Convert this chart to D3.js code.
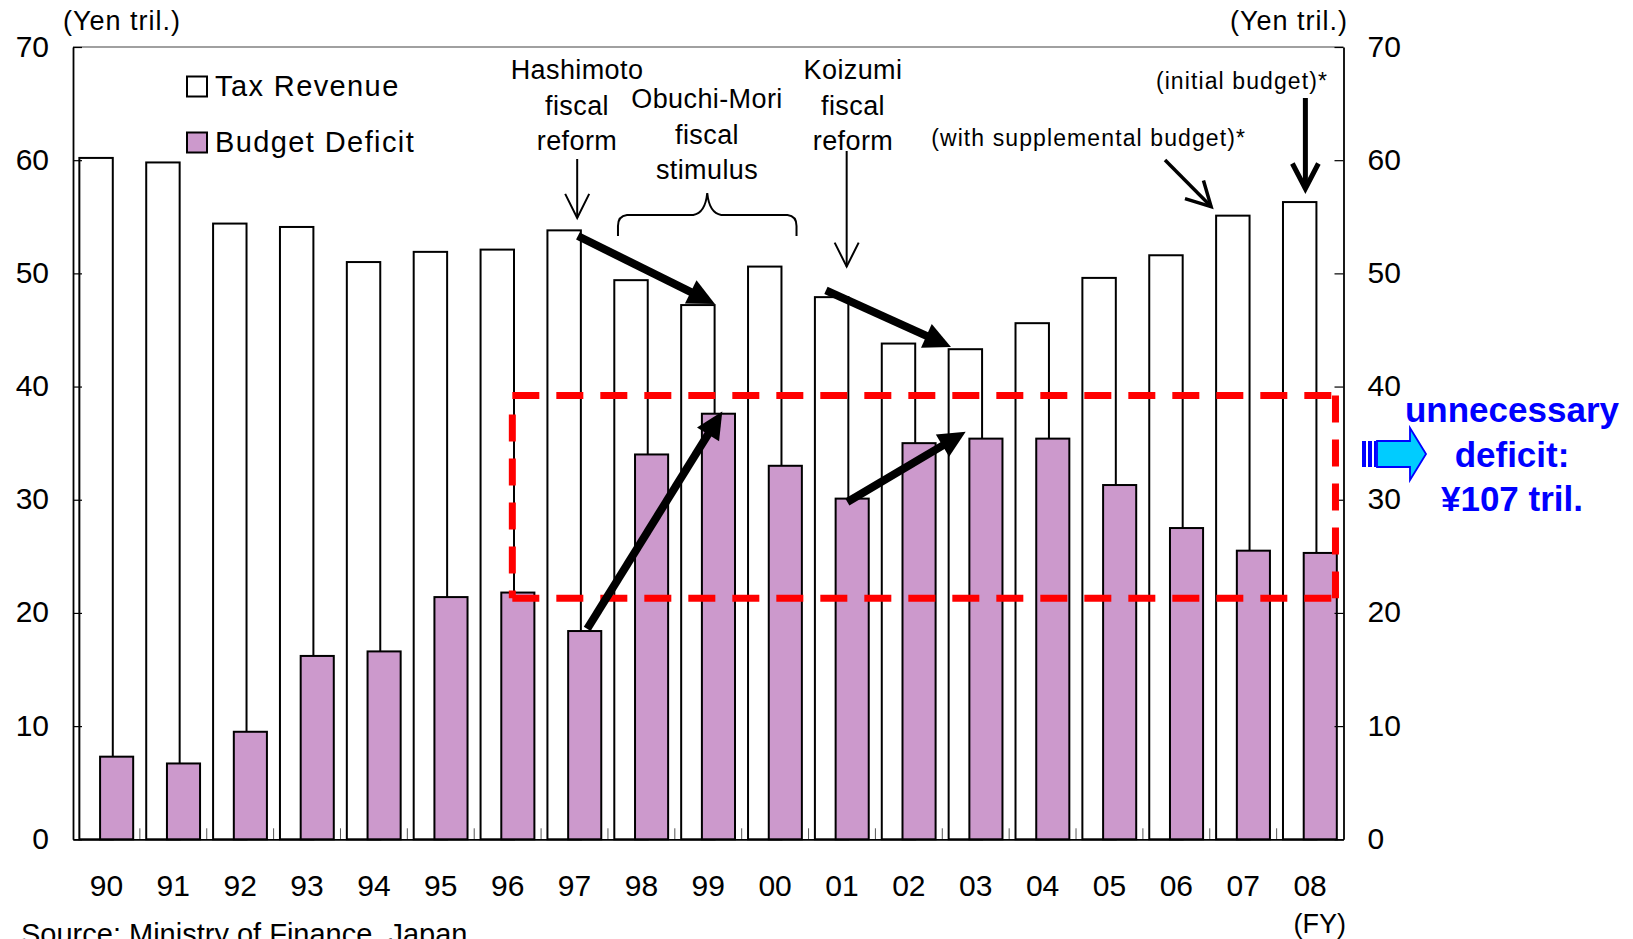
<!DOCTYPE html>
<html>
<head>
<meta charset="utf-8">
<script src="https://cdnjs.cloudflare.com/ajax/libs/d3/7.8.5/d3.min.js"></script>
<style>
    body { margin: 0; background: #fff; }
    svg text { font-family: "Liberation Sans", Arial, sans-serif; fill: #000; }
</style>
</head>
<body>
<div id="chart-area"></div>
<script>

// fiscal years on the x axis
const years = ["90", "91", "92", "93", "94", "95", "96", "97", "98", "99",
    "00", "01", "02", "03", "04", "05", "06", "07", "08"];

// Yen tril.
const taxRevenue = [60.2, 59.8, 54.4, 54.1, 51.0, 51.9, 52.1, 53.8, 49.4, 47.2,
    50.6, 47.9, 43.8, 43.3, 45.6, 49.6, 51.6, 55.1, 56.3];
const budgetDeficit = [7.3, 6.7, 9.5, 16.2, 16.6, 21.4, 21.8, 18.4, 34.0, 37.6,
    33.0, 30.1, 35.0, 35.4, 35.4, 31.3, 27.5, 25.5, 25.3];

const yTicks = [0, 10, 20, 30, 40, 50, 60, 70];
const seriesNames = ["Tax Revenue", "Budget Deficit"];

// "unnecessary deficit" band (Yen tril.)
const deficitBand = [21.3, 39.2];


class DeficitChart {

    constructor(_parentElement) {
        this.parentElement = _parentElement;
        this.initVis();
    }

    initVis() {
        let vis = this;

        vis.W = 1633;
        vis.H = 939;
        vis.margin = {top: 47, right: 289.5, bottom: 99.7, left: 73};
        vis.width = vis.W - vis.margin.left - vis.margin.right;
        vis.height = vis.H - vis.margin.top - vis.margin.bottom;

        vis.svg = d3.select("#" + vis.parentElement).append("svg")
            .attr("width", vis.W)
            .attr("height", vis.H);

        vis.x = d3.scaleBand()
            .domain(years)
            .range([vis.margin.left, vis.margin.left + vis.width])
            .paddingInner(0)
            .paddingOuter(0);

        vis.y = d3.scaleLinear()
            .domain([0, 70])
            .range([vis.margin.top + vis.height, vis.margin.top]);

        vis.bw = vis.x.bandwidth();

        vis.wrangleData();
    }

    wrangleData() {
        let vis = this;

        vis.displayData = years.map((yr, i) => ({
            year: yr,
            tax: taxRevenue[i],
            deficit: budgetDeficit[i]
        }));

        vis.updateVis();
    }

    // position inside a year's band, as a fraction of the band
    px(year, frac) {
        return this.x(year) + frac * this.bw;
    }

    thickArrow(x1, y1, x2, y2) {
        let vis = this;
        let len = Math.hypot(x2 - x1, y2 - y1);
        let ux = (x2 - x1) / len, uy = (y2 - y1) / len;
        let nx = -uy, ny = ux;
        let hl = 27, hw = 13;
        let bx = x2 - ux * hl, by = y2 - uy * hl;
        vis.svg.append("line")
            .attr("x1", x1).attr("y1", y1)
            .attr("x2", bx + ux * 2).attr("y2", by + uy * 2)
            .attr("stroke", "#000")
            .attr("stroke-width", 8);
        vis.svg.append("polygon")
            .attr("points", [[x2, y2], [bx + nx * hw, by + ny * hw], [bx - nx * hw, by - ny * hw]].join(" "))
            .attr("fill", "#000");
    }

    openArrow(x1, y1, x2, y2, sw, hl, hw) {
        let vis = this;
        let len = Math.hypot(x2 - x1, y2 - y1);
        let ux = (x2 - x1) / len, uy = (y2 - y1) / len;
        let nx = -uy, ny = ux;
        let bx = x2 - ux * hl, by = y2 - uy * hl;
        vis.svg.append("line")
            .attr("x1", x1).attr("y1", y1)
            .attr("x2", x2).attr("y2", y2)
            .attr("stroke", "#000")
            .attr("stroke-width", sw);
        vis.svg.append("polyline")
            .attr("points", [[bx + nx * hw, by + ny * hw], [x2, y2], [bx - nx * hw, by - ny * hw]].join(" "))
            .attr("fill", "none")
            .attr("stroke", "#000")
            .attr("stroke-width", sw)
            .attr("stroke-linejoin", "miter");
    }

    updateVis() {
        let vis = this;
        let x0 = vis.margin.left, x1 = vis.margin.left + vis.width;
        let yTop = vis.margin.top, yBot = vis.margin.top + vis.height;

        // plot frame: grey top line
        vis.svg.append("line")
            .attr("x1", x0).attr("x2", x1)
            .attr("y1", yTop).attr("y2", yTop)
            .attr("stroke", "#808080")
            .attr("stroke-width", 1.5);

        // Tax revenue bars (white)
        vis.svg.selectAll(".tax-bar")
            .data(vis.displayData)
            .enter()
            .append("rect")
            .attr("class", "tax-bar")
            .attr("x", d => vis.px(d.year, 0.095))
            .attr("y", d => vis.y(d.tax))
            .attr("width", vis.bw * 0.5)
            .attr("height", d => vis.y(0) - vis.y(d.tax))
            .attr("fill", "#fff")
            .attr("stroke", "#000")
            .attr("stroke-width", 2);

        // Budget deficit bars (overlapping, drawn in front)
        vis.svg.selectAll(".deficit-bar")
            .data(vis.displayData)
            .enter()
            .append("rect")
            .attr("class", "deficit-bar")
            .attr("x", d => vis.px(d.year, 0.405))
            .attr("y", d => vis.y(d.deficit))
            .attr("width", vis.bw * 0.495)
            .attr("height", d => vis.y(0) - vis.y(d.deficit))
            .attr("fill", "#CC99CC")
            .attr("stroke", "#000")
            .attr("stroke-width", 2);

        // small category ticks at band boundaries
        vis.svg.selectAll(".cat-tick")
            .data(years.slice(1))
            .enter()
            .append("line")
            .attr("class", "cat-tick")
            .attr("x1", d => vis.x(d)).attr("x2", d => vis.x(d))
            .attr("y1", yBot).attr("y2", yBot - 11)
            .attr("stroke", "#555")
            .attr("stroke-width", 1);

        // Axes
        let yAxisL = d3.axisLeft(vis.y).tickValues(yTicks).tickSizeInner(-9).tickSizeOuter(0).tickPadding(24);
        let yAxisR = d3.axisRight(vis.y).tickValues(yTicks).tickSizeInner(-9).tickSizeOuter(0).tickPadding(24);
        let xAxis = d3.axisBottom(vis.x).tickSize(0).tickPadding(36);

        let gL = vis.svg.append("g").attr("transform", "translate(" + x0 + ",0)").call(yAxisL);
        let gR = vis.svg.append("g").attr("transform", "translate(" + x1 + ",0)").call(yAxisR);
        let gX = vis.svg.append("g").attr("transform", "translate(0," + yBot + ")").call(xAxis);

        [gL, gR, gX].forEach(g => {
            g.select(".domain").attr("stroke", "#000").attr("stroke-width", 1.8);
            g.selectAll(".tick line").attr("stroke", "#000").attr("stroke-width", 1.2);
            g.selectAll(".tick text")
                .attr("font-family", "Liberation Sans, Arial, sans-serif")
                .attr("font-size", 30)
                .attr("fill", "#000");
        });
        gL.selectAll(".tick text").attr("dy", "0.3em");
        gR.selectAll(".tick text").attr("dy", "0.3em");
        gX.selectAll(".tick text").attr("dy", "0.68em");

        // unit labels
        vis.svg.append("text").attr("x", 63).attr("y", 30)
            .attr("font-size", 27).attr("letter-spacing", 1).text("(Yen tril.)");
        vis.svg.append("text").attr("x", 1348).attr("y", 30)
            .attr("text-anchor", "end")
            .attr("font-size", 27).attr("letter-spacing", 1).text("(Yen tril.)");
        vis.svg.append("text").attr("x", 1346).attr("y", 933)
            .attr("text-anchor", "end")
            .attr("font-size", 27).text("(FY)");
        vis.svg.append("text").attr("x", 21).attr("y", 944)
            .attr("font-size", 29).text("Source: Ministry of Finance, Japan");

        // Legend
        let legend = vis.svg.selectAll(".legend")
            .data(seriesNames)
            .enter()
            .append("g")
            .attr("class", "legend")
            .attr("transform", (d, i) => "translate(187," + (76.5 + i * 56) + ")");
        legend.append("rect")
            .attr("width", 20).attr("height", 20)
            .attr("fill", (d, i) => i === 0 ? "#fff" : "#CC99CC")
            .attr("stroke", "#000")
            .attr("stroke-width", 2);
        legend.append("text")
            .attr("x", 28).attr("y", 19.5)
            .attr("font-size", 29)
            .attr("letter-spacing", 1.4)
            .text(d => d);

        // red dashed "unnecessary deficit" box
        let bxL = vis.px("96", 0.57), bxR = vis.px("08", 0.88);
        let byT = vis.y(deficitBand[1]), byB = vis.y(deficitBand[0]);
        let dash = {stroke: "#FF0000", "stroke-width": 7, "stroke-dasharray": "27,17"};
        [[bxL, byT, bxR, byT], [bxL, byB, bxR, byB], [bxL, byT + 19, bxL, byB], [bxR, byT, bxR, byB]]
            .forEach(s => {
                let l = vis.svg.append("line")
                    .attr("x1", s[0]).attr("y1", s[1]).attr("x2", s[2]).attr("y2", s[3]);
                Object.keys(dash).forEach(k => l.attr(k, dash[k]));
            });

        // thick trend arrows
        vis.thickArrow(vis.px("97", 0.55), vis.y(53.3), vis.px("99", 0.6), vis.y(47.3));
        vis.thickArrow(vis.px("01", 0.26), vis.y(48.5), vis.px("03", 0.13), vis.y(43.5));
        vis.thickArrow(vis.px("97", 0.69), vis.y(18.6), vis.px("99", 0.71), vis.y(37.8));
        vis.thickArrow(vis.px("01", 0.58), vis.y(29.8), vis.px("03", 0.35), vis.y(36.0));

        // policy annotations
        let notes = [
            {cx: 577, lines: ["Hashimoto", "fiscal", "reform"], y0: 79},
            {cx: 707, lines: ["Obuchi-Mori", "fiscal", "stimulus"], y0: 108},
            {cx: 853, lines: ["Koizumi", "fiscal", "reform"], y0: 79}
        ];
        notes.forEach(n => {
            vis.svg.append("text")
                .attr("x", n.cx).attr("y", n.y0)
                .attr("text-anchor", "middle")
                .attr("font-size", 27)
                .attr("letter-spacing", 0.4)
                .selectAll("tspan")
                .data(n.lines)
                .enter()
                .append("tspan")
                .attr("x", n.cx)
                .attr("dy", (d, i) => i === 0 ? 0 : 35.5)
                .text(d => d);
        });

        vis.openArrow(vis.px("97", 0.54), 159, vis.px("97", 0.54), vis.y(54.9), 2, 24, 12);
        vis.openArrow(vis.px("01", 0.57), 151, vis.px("01", 0.57), vis.y(50.6), 2, 24, 12);

        // brace over Obuchi-Mori years
        let bL = vis.px("98", 0.15), bR = vis.px("00", 0.82), bM = (bL + bR) / 2;
        vis.svg.append("path")
            .attr("d", "M" + bL + ",236 L" + bL + ",226 Q" + bL + ",216 " + (bL + 9) + ",215 L" + (bM - 14) + ",215"
                + " Q" + (bM - 2) + ",213 " + bM + ",193 Q" + (bM + 2) + ",213 " + (bM + 14) + ",215"
                + " L" + (bR - 9) + ",215 Q" + bR + ",216 " + bR + ",226 L" + bR + ",236")
            .attr("fill", "none")
            .attr("stroke", "#000")
            .attr("stroke-width", 2);

        // budget footnotes
        vis.svg.append("text").attr("x", 1246).attr("y", 146)
            .attr("text-anchor", "end")
            .attr("font-size", 23).attr("letter-spacing", 1.1)
            .text("(with supplemental budget)*");
        vis.svg.append("text").attr("x", 1328).attr("y", 89)
            .attr("text-anchor", "end")
            .attr("font-size", 23).attr("letter-spacing", 1.1)
            .text("(initial budget)*");

        vis.openArrow(1165, 160, vis.px("07", 0.02), vis.y(55.9), 3.5, 24, 13);
        vis.openArrow(vis.px("08", 0.43), 98, vis.px("08", 0.43), vis.y(57.5), 5, 25, 13);

        // blue arrow pointing to the note
        let ay = 454;
        let arrow = vis.svg.append("g");
        [[1362, 4], [1368, 4], [1374, 2.5]].forEach(s => {
            arrow.append("rect")
                .attr("x", s[0]).attr("y", ay - 13)
                .attr("width", s[1]).attr("height", 26)
                .attr("fill", "#0000FF");
        });
        arrow.append("path")
            .attr("d", "M1377," + (ay - 13) + " L1410," + (ay - 13) + " L1410," + (ay - 26)
                + " L1426," + ay + " L1410," + (ay + 26) + " L1410," + (ay + 13)
                + " L1377," + (ay + 13) + " Z")
            .attr("fill", "#00CCFF")
            .attr("stroke", "#0000FF")
            .attr("stroke-width", 1.8);

        vis.svg.append("text")
            .attr("text-anchor", "middle")
            .attr("font-size", 35)
            .attr("font-weight", "bold")
            .style("fill", "#0000FF")
            .selectAll("tspan")
            .data(["unnecessary", "deficit:", "\u00A5107 tril."])
            .enter()
            .append("tspan")
            .attr("x", 1512)
            .attr("y", (d, i) => 422 + i * 44.5)
            .text(d => d);
    }
}

let chart = new DeficitChart("chart-area");

</script>
</body>
</html>
